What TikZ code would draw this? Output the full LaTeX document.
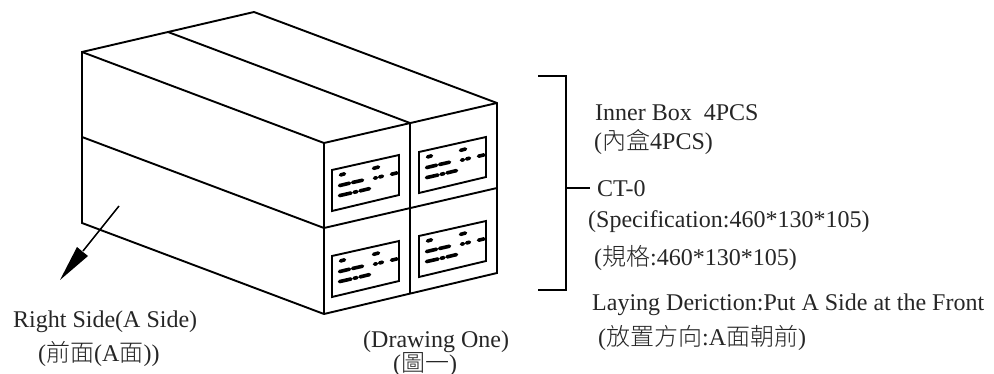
\documentclass[tikz,border=0pt]{standalone}
\usepackage{fontspec}
\setmainfont{Liberation Serif}
\newfontfamily\cjk{Noto Sans CJK TC Light}
\tikzset{
  x=1pt,y=-1pt,
  edge/.style={draw=black,line width=1.9pt,line join=miter},
  lead/.style={draw=black,line width=1.5pt},
  blob/.style={draw=black,line width=3.6pt,line cap=round},
  lab/.style={font=\fontsize{24}{26}\selectfont,inner sep=0pt,anchor=base west,text=black!85},
  labelcard/.pic={
    \draw[edge] (0,0) -- (67,-15) -- (67,25) -- (0,41) -- cycle;
    \draw[blob] (8.5,5) -- (12.5,3.8);
    \draw[blob] (41.5,-1.6) -- (46.5,-3);
    \draw[blob] (42.5,8.2) -- (44.5,7.7);
    \draw[blob] (47.5,7) -- (50.5,6.2);
    \draw[blob] (59.5,4.2) -- (65,2.9);
    \draw[blob] (7.5,15.6) -- (17.5,13.2);
    \draw[blob] (20.5,12.5) -- (30.5,10.2);
    \draw[blob] (7.5,25.6) -- (19,23);
    \draw[blob] (22,22.3) -- (25,21.6);
    \draw[blob] (28,20.9) -- (37.5,18.6);
  }
}
\begin{document}
\begin{tikzpicture}
\useasboundingbox (0,0) rectangle (994,374);
% box corners
\coordinate (back) at (254,12);
\coordinate (tl) at (82,52);
\coordinate (ml) at (82,137);
\coordinate (bl) at (82,223);
\coordinate (topd) at (168,32);
\coordinate (f1) at (324,143);
\coordinate (f2) at (324,228);
\coordinate (f3) at (324,314);
\coordinate (c1) at (410,123);
\coordinate (c2) at (410,208);
\coordinate (c3) at (410,293);
\coordinate (r1) at (497,103);
\coordinate (r2) at (497,188);
\coordinate (r3) at (497,273);
\draw[edge] (tl) -- (back) -- (r1) -- (r3) -- (f3) -- (bl) -- cycle;
\draw[edge] (tl) -- (f1) -- (r1);
\draw[edge] (f1) -- (f3);
\draw[edge] (topd) -- (c1) -- (c3);
\draw[edge] (ml) -- (f2) -- (r2);
% labels
\pic at (332,170) {labelcard};
\pic at (419,152) {labelcard};
\pic at (332,256) {labelcard};
\pic at (419,236) {labelcard};
% arrow
\coordinate (atail) at (119,206);
\coordinate (aneck) at (83,251);
\coordinate (atip) at (60,280);
\draw[lead] (atail) -- (aneck);
\fill[black] (atip) -- (77,247) -- (83,252) -- (88,256) -- cycle;
% bracket
\coordinate (bra) at (538,76);
\coordinate (brb) at (566,76);
\coordinate (brc) at (566,290);
\coordinate (brd) at (538,290);
\coordinate (tick) at (566,188);
\coordinate (ticke) at (590,188);
\draw[edge] (bra) -- (brb) -- (brc) -- (brd);
\draw[lead] (tick) -- (ticke);
% text
\node[lab] (t1) at (595,121) {Inner Box\ \ 4PCS};
\node[lab] (t2) at (594,150) {({\cjk 內盒}4PCS)};
\node[lab] (t3) at (597,197) {CT-0};
\node[lab] (t4) at (588,228) {(Specification:460*130*105)};
\node[lab] (t5) at (594,266) {({\cjk 規格}:460*130*105)};
\node[lab] (t6) at (592,311) {Laying Deriction:Put A Side at the Front};
\node[lab] (t7) at (598,345) {({\cjk 放置方向}:A{\cjk 面朝前})};
\node[lab] (t8) at (13,327) {Right Side(A Side)};
\node[lab] (t9) at (38,361) {({\cjk 前面}(A{\cjk 面}))};
\node[lab] (t10) at (363,347) {(Drawing One)};
\node[lab] (t11) at (393,371) {({\cjk 圖一})};
\end{tikzpicture}
\end{document}
